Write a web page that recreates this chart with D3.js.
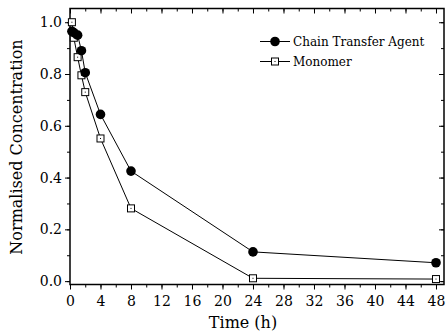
<!DOCTYPE html>
<html lang="en">
<head>
  <meta charset="UTF-8">
  <title>Normalised Concentration</title>
  <script src="https://d3js.org/d3.v7.min.js"></script>
  <style>
    body { margin: 0; padding: 0; background: #fff; }
  </style>
</head>
<body>
  <div id="chart"></div>
  <script>
    const ctaTime = [0.25, 0.5, 1, 1.5, 2, 4, 8, 24, 48];
    const ctaConc = [0.965, 0.96, 0.95, 0.89, 0.805, 0.644, 0.425, 0.113, 0.071];
    const monTime = [0.25, 0.5, 1, 1.5, 2, 4, 8, 24, 48];
    const monConc = [1.0, 0.94, 0.865, 0.795, 0.73, 0.551, 0.281, 0.011, 0.008];
    const xTicks = [0, 4, 8, 12, 16, 20, 24, 28, 32, 36, 40, 44, 48];
    const yTicks = [0.0, 0.2, 0.4, 0.6, 0.8, 1.0];
    const seriesNames = ["Chain Transfer Agent", "Monomer"];

    const FONT = "'DejaVu Serif', serif";
    const width = 446, height = 336;
    const mLeft = 70, mRight = 444, mTop = 8.5, mBottom = 284.5;

    const x = d3.scaleLinear().domain([0, 49.05]).range([mLeft, mRight]);
    const y = d3.scaleLinear().domain([-0.013, 1.053]).range([mBottom, mTop]);

    const svg = d3.select("#chart").append("svg")
      .attr("width", width).attr("height", height)
      .attr("font-family", FONT);

    const xMinor = d3.range(0, 49, 2);
    const yMinor = d3.range(0, 1.05, 0.1);

    // bottom axis (ticks out)
    svg.append("g").attr("transform", `translate(0,${mBottom})`)
      .call(d3.axisBottom(x).tickValues(xTicks).tickSize(5).tickFormat(d3.format("d")))
      .call(g => g.select(".domain").remove())
      .call(g => g.selectAll("text").attr("font-family", FONT).attr("font-size", 14).attr("dy", "0.95em"));
    svg.append("g").attr("transform", `translate(0,${mBottom})`)
      .call(d3.axisBottom(x).tickValues(xMinor).tickSize(3).tickFormat(""))
      .call(g => g.select(".domain").remove());

    // top axis (ticks in)
    svg.append("g").attr("transform", `translate(0,${mTop})`)
      .call(d3.axisBottom(x).tickValues(xTicks).tickSize(5).tickFormat(""))
      .call(g => g.select(".domain").remove());
    svg.append("g").attr("transform", `translate(0,${mTop})`)
      .call(d3.axisBottom(x).tickValues(xMinor).tickSize(3).tickFormat(""))
      .call(g => g.select(".domain").remove());

    // left axis (ticks out)
    svg.append("g").attr("transform", `translate(${mLeft},0)`)
      .call(d3.axisLeft(y).tickValues(yTicks).tickSize(5).tickFormat(d3.format(".1f")))
      .call(g => g.select(".domain").remove())
      .call(g => g.selectAll("text").attr("font-family", FONT).attr("font-size", 14));
    svg.append("g").attr("transform", `translate(${mLeft},0)`)
      .call(d3.axisLeft(y).tickValues(yMinor).tickSize(3).tickFormat(""))
      .call(g => g.select(".domain").remove());

    // right axis (ticks in)
    svg.append("g").attr("transform", `translate(${mRight},0)`)
      .call(d3.axisLeft(y).tickValues(yTicks).tickSize(5).tickFormat(""))
      .call(g => g.select(".domain").remove());
    svg.append("g").attr("transform", `translate(${mRight},0)`)
      .call(d3.axisLeft(y).tickValues(yMinor).tickSize(3).tickFormat(""))
      .call(g => g.select(".domain").remove());

    svg.selectAll(".tick line").attr("stroke", "#000").attr("stroke-width", 1);

    // frame
    svg.append("rect")
      .attr("x", mLeft).attr("y", mTop)
      .attr("width", mRight - mLeft).attr("height", mBottom - mTop)
      .attr("fill", "none").attr("stroke", "#000").attr("stroke-width", 1.5);

    // axis titles
    svg.append("text")
      .attr("x", 243).attr("y", 328)
      .attr("text-anchor", "middle").attr("font-size", 16)
      .text("Time (h)");
    svg.append("text")
      .attr("transform", `translate(22,147) rotate(-90)`)
      .attr("text-anchor", "middle").attr("font-size", 16)
      .text("Normalised Concentration");

    const line = d3.line().x(d => x(d[0])).y(d => y(d[1]));
    const cta = d3.zip(ctaTime, ctaConc);
    const mon = d3.zip(monTime, monConc);

    const plot = svg.append("g");
    plot.append("path").datum(mon).attr("d", line)
      .attr("fill", "none").attr("stroke", "#000").attr("stroke-width", 1);
    plot.append("path").datum(cta).attr("d", line)
      .attr("fill", "none").attr("stroke", "#000").attr("stroke-width", 1);

    function square(g, cx, cy) {
      g.append("rect").attr("x", cx - 3.5).attr("y", cy - 3.5)
        .attr("width", 7).attr("height", 7)
        .attr("fill", "#fff").attr("stroke", "#000").attr("stroke-width", 1);
      g.append("rect").attr("x", cx - 0.5).attr("y", cy - 0.5)
        .attr("width", 1).attr("height", 1).attr("fill", "#000");
    }

    mon.forEach(d => square(plot, x(d[0]), y(d[1])));
    plot.selectAll(".cta").data(cta).enter().append("circle")
      .attr("cx", d => x(d[0])).attr("cy", d => y(d[1]))
      .attr("r", 4.8).attr("fill", "#000");

    // legend
    const legend = svg.append("g");
    const lx0 = 260, lx1 = 290, ly = [41.5, 61.5];
    seriesNames.forEach((name, i) => {
      legend.append("line").attr("x1", lx0).attr("x2", lx1)
        .attr("y1", ly[i]).attr("y2", ly[i])
        .attr("stroke", "#000").attr("stroke-width", 1);
      if (i === 0) {
        legend.append("circle").attr("cx", (lx0 + lx1) / 2).attr("cy", ly[i])
          .attr("r", 4.8).attr("fill", "#000");
      } else {
        square(legend, (lx0 + lx1) / 2, ly[i]);
      }
      legend.append("text").attr("x", 293).attr("y", ly[i]).attr("dy", "0.35em")
        .attr("font-size", 12).text(name);
    });
  </script>
</body>
</html>
